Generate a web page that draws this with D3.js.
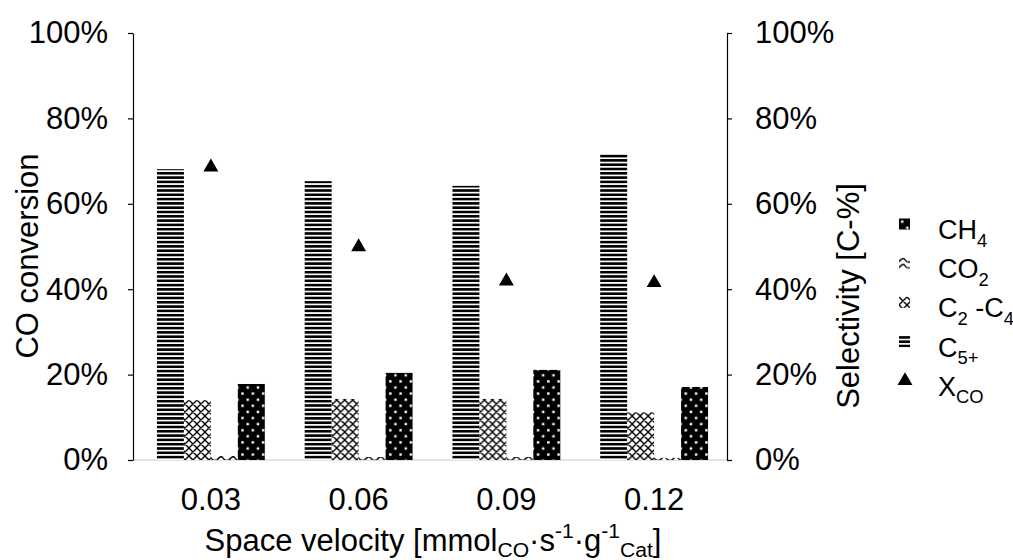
<!DOCTYPE html>
<html>
<head>
<meta charset="utf-8">
<script src="https://cdn.jsdelivr.net/npm/d3@7"></script>
<style>
  html, body { margin: 0; padding: 0; background: #fff; }
  svg { display: block; font-family: "Liberation Sans", Arial, sans-serif; }
</style>
</head>
<body>
<svg id="chart" width="1013" height="560"></svg>
<script>
// Space velocity categories (mmol_CO / s / g_cat)
const categories = ["0.03", "0.06", "0.09", "0.12"];

// Product selectivities, C-%
const c5plus = [68.1, 65.3, 64.2, 71.7];
const c2c4   = [14.0, 14.3, 14.3, 11.2];
const co2    = [1.1, 0.7, 0.7, 0.5];
const ch4    = [17.8, 20.4, 21.1, 17.1];

// CO conversion, %
const xco = [68.6, 49.9, 41.9, 41.5];

// Axis ticks, %
const yTicks = [0, 20, 40, 60, 80, 100];

const seriesKeys = ["c5", "c24", "co2", "ch4"];
const seriesValues = { c5: c5plus, c24: c2c4, co2: co2, ch4: ch4 };
const seriesFill = { c5: "url(#pStripe)", c24: "url(#pDiamond)", co2: "url(#pWave)", ch4: "url(#pDots)" };

const svg = d3.select("#chart");
const FS = 31;

// ---- fill patterns ----
const defs = svg.append("defs");

// dense horizontal stripes
const pS = defs.append("pattern").attr("id", "pStripe").attr("patternUnits", "userSpaceOnUse")
  .attr("width", 10).attr("height", 4.3);
pS.append("rect").attr("width", 10).attr("height", 4.3).attr("fill", "#fff");
pS.append("rect").attr("y", 0).attr("width", 10).attr("height", 2.6).attr("fill", "#000");

// outlined diamond lattice
const pD = defs.append("pattern").attr("id", "pDiamond").attr("patternUnits", "userSpaceOnUse")
  .attr("width", 8).attr("height", 8);
pD.append("rect").attr("width", 8).attr("height", 8).attr("fill", "#fff");
pD.append("path").attr("d", "M0,0L8,8M8,0L0,8M-1,7L1,9M7,-1L9,1")
  .attr("stroke", "#000").attr("stroke-width", 1.4).attr("fill", "none");

// wave
const pW = defs.append("pattern").attr("id", "pWave").attr("patternUnits", "userSpaceOnUse")
  .attr("width", 12).attr("height", 6);
pW.append("rect").attr("width", 12).attr("height", 6).attr("fill", "#fff");
pW.append("path").attr("d", "M0,4 C3,0 5,0 6,2 C7,4 9,5 12,4")
  .attr("stroke", "#000").attr("stroke-width", 1.4).attr("fill", "none");

// black with white dots
const pDot = defs.append("pattern").attr("id", "pDots").attr("patternUnits", "userSpaceOnUse")
  .attr("width", 10.3).attr("height", 12.2);
pDot.append("rect").attr("width", 10.3).attr("height", 12.2).attr("fill", "#000");
pDot.append("rect").attr("x", 2).attr("y", 2).attr("width", 2.4).attr("height", 2.4).attr("fill", "#fff");
pDot.append("rect").attr("x", 7.15).attr("y", 8.1).attr("width", 2.4).attr("height", 2.4).attr("fill", "#fff");

// ---- scales ----
const axisLeftX = 133, axisRightX = 727;
const x0 = d3.scaleBand().domain(categories).range([137, 728])
  .paddingInner(0.27).paddingOuter(0.135);
const x1 = d3.scaleBand().domain(seriesKeys).range([0, x0.bandwidth()]).padding(0);
const y = d3.scaleLinear().domain([0, 100]).range([460, 33]);

// baseline
svg.append("line").attr("x1", axisLeftX).attr("x2", axisRightX)
  .attr("y1", y(0)).attr("y2", y(0)).attr("stroke", "#d9d9d9").attr("stroke-width", 1.5);

// ---- bars ----
const groups = svg.append("g").selectAll("g").data(categories).join("g")
  .attr("transform", d => `translate(${x0(d)},0)`);
groups.selectAll("rect")
  .data((c, i) => seriesKeys.map(k => ({ key: k, v: seriesValues[k][i] })))
  .join("rect")
  .attr("x", d => x1(d.key))
  .attr("width", x1.bandwidth())
  .attr("y", d => y(d.v))
  .attr("height", d => y(0) - y(d.v))
  .attr("fill", d => seriesFill[d.key]);

// ---- conversion markers ----
const tri = d3.symbol().type(d3.symbolTriangle).size(97);
svg.append("g").selectAll("path").data(categories).join("path")
  .attr("d", tri)
  .attr("transform", (d, i) => `translate(${x0(d) + x0.bandwidth() / 2},${y(xco[i])})`)
  .attr("fill", "#000");

// ---- axes ----
function styleAxis(g) {
  g.select(".domain").attr("stroke", "#000").attr("stroke-width", 1.2);
  g.selectAll(".tick line").attr("stroke", "#000").attr("stroke-width", 1.2);
  g.selectAll(".tick text").attr("fill", "#000").style("font-size", FS + "px")
    .style("font-family", "'Liberation Sans', Arial, sans-serif");
}
svg.append("g").attr("transform", `translate(${axisLeftX},0)`)
  .call(d3.axisLeft(y).tickValues(yTicks).tickSize(5).tickSizeOuter(0).tickPadding(20).tickFormat(d => d + "%"))
  .call(styleAxis);
svg.append("g").attr("transform", `translate(${axisRightX},0)`)
  .call(d3.axisRight(y).tickValues(yTicks).tickSize(5).tickSizeOuter(0).tickPadding(23).tickFormat(d => d + "%"))
  .call(styleAxis);
const xAxis = svg.append("g").attr("transform", `translate(0,${y(0)})`)
  .call(d3.axisBottom(x0).tickSize(0).tickPadding(28))
  .call(styleAxis);
xAxis.select(".domain").remove();

// ---- rich text helper (sub/superscripts) ----
function rich(sel, parts, size, subShift) {
  let shift = 0;
  parts.forEach(p => {
    const t = sel.append("tspan").text(p.t);
    let target = 0, fs = size;
    if (p.sub) { target = size * subShift; fs = size * 0.68; }
    if (p.sup) { target = -size * 0.42; fs = size * 0.68; }
    t.attr("dy", target - shift).style("font-size", fs + "px");
    shift = target;
  });
}

// axis titles
svg.append("text").attr("transform", "translate(38,256) rotate(-90)")
  .attr("text-anchor", "middle").style("font-size", FS + "px").text("CO conversion");
svg.append("text").attr("transform", "translate(859,296) rotate(-90)")
  .attr("text-anchor", "middle").style("font-size", FS + "px").text("Selectivity [C-%]");
rich(svg.append("text").attr("x", 433).attr("y", 551).attr("text-anchor", "middle").style("font-size", FS + "px"),
  [{ t: "Space velocity [mmol" }, { t: "CO", sub: true }, { t: "·s" }, { t: "-1", sup: true },
   { t: "·g" }, { t: "-1", sup: true }, { t: "Cat", sub: true }, { t: "]" }], FS, 0.18);

// ---- legend ----
const legendItems = [
  { kind: "ch4", parts: [{ t: "CH" }, { t: "4", sub: true }] },
  { kind: "co2", parts: [{ t: "CO" }, { t: "2", sub: true }] },
  { kind: "c24", parts: [{ t: "C" }, { t: "2", sub: true }, { t: " -C" }, { t: "4", sub: true }] },
  { kind: "c5",  parts: [{ t: "C" }, { t: "5+", sub: true }] },
  { kind: "x",   parts: [{ t: "X" }, { t: "CO", sub: true }] }
];
const LFS = 27;
const lg = svg.append("g");
legendItems.forEach((it, i) => {
  const cy = 224 + i * 39.2;
  if (it.kind === "x") {
    lg.append("path").attr("d", tri).attr("transform", `translate(905,${cy})`).attr("fill", "#000");
  } else {
    // swatch drawn in its own local frame so the pattern tile starts at its corner
    lg.append("g").attr("transform", `translate(899,${cy - 5.5})`)
      .append("rect").attr("width", 11).attr("height", 11)
      .attr("fill", seriesFill[it.kind]);
  }
  rich(lg.append("text").attr("x", 938).attr("y", cy + 15).style("font-size", LFS + "px"), it.parts, LFS, 0.28);
});
</script>
</body>
</html>
